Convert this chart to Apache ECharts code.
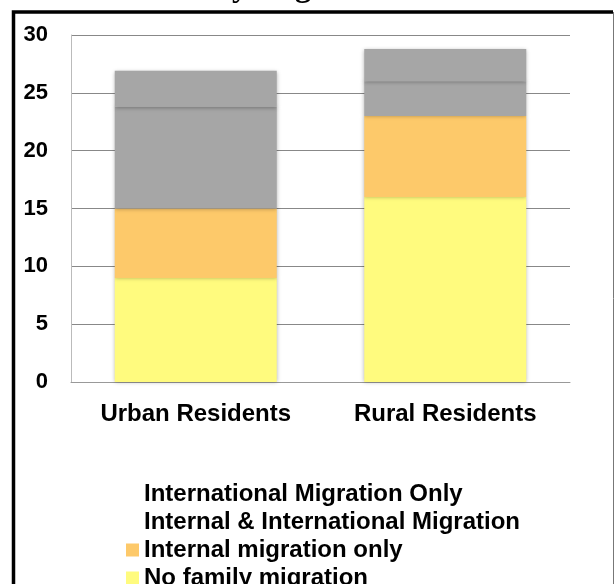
<!DOCTYPE html>
<html>
<head>
<meta charset="utf-8">
<script src="https://cdn.jsdelivr.net/npm/echarts@6/dist/echarts.min.js"></script>
<style>
html,body{margin:0;padding:0;background:#fff;}
#chart{width:615px;height:584px;}
</style>
</head>
<body>
<div id="chart"></div>
<script>
const categories = ['Urban Residents', 'Rural Residents'];
const noFamilyMigration = [9, 16];
const internalOnly = [6, 7];
const internalAndInternational = [8.8, 3];
const internationalOnly = [3.1, 2.8];
const yTicks = [0, 5, 10, 15, 20, 25, 30];
const titleText = 'Family Migration';

const chart = echarts.init(document.getElementById('chart'));
const shadow = {shadowBlur: 4, shadowColor: 'rgba(0,0,0,0.3)'};
const font = 'Liberation Sans';

chart.setOption({
  animation: false,
  backgroundColor: '#fff',
  graphic: [
    {type: 'text', left: 152, top: -28, z: 10,
     style: {text: titleText, font: 'bold 32px "Liberation Serif"', fill: '#000'}},
    {type: 'polyline', z: 10, silent: true,
     shape: {points: [[13.5, 600], [13.5, 12], [613, 12]]},
     style: {stroke: '#000', lineWidth: 3.5, fill: null}},
    {type: 'line', z: 10, silent: true,
     shape: {x1: 613.5, y1: 12, x2: 613.5, y2: 600},
     style: {stroke: '#777', lineWidth: 1}}
  ],
  grid: {left: 71, right: 45, top: 35, bottom: 202, containLabel: false},
  legend: {
    orient: 'vertical',
    left: 121,
    top: 475,
    height: 140,
    itemWidth: 13,
    itemHeight: 13,
    itemGap: 0,
    icon: 'rect',
    textStyle: {fontFamily: font, fontWeight: 'bold', fontSize: 24, color: '#000', lineHeight: 28},
    data: [
      {name: 'International Migration Only', itemStyle: {opacity: 0}},
      {name: 'Internal & International Migration', itemStyle: {opacity: 0}},
      {name: 'Internal migration only'},
      {name: 'No family migration'}
    ]
  },
  xAxis: {
    type: 'category',
    data: categories,
    axisLine: {lineStyle: {color: '#999', width: 1}},
    axisTick: {show: false},
    axisLabel: {fontFamily: font, fontWeight: 'bold', fontSize: 24, color: '#000', margin: 20}
  },
  yAxis: {
    type: 'value',
    min: yTicks[0],
    max: yTicks[yTicks.length - 1],
    interval: 5,
    axisLine: {show: true, lineStyle: {color: '#bbb', width: 1}},
    axisTick: {show: false},
    splitLine: {lineStyle: {color: '#888', width: 1}},
    axisLabel: {fontFamily: font, fontWeight: 'bold', fontSize: 22, color: '#000', margin: 23}
  },
  series: [
    {name: 'No family migration', type: 'bar', stack: 'a', barWidth: 162, data: noFamilyMigration,
     itemStyle: Object.assign({color: '#FFFB7E'}, shadow)},
    {name: 'Internal migration only', type: 'bar', stack: 'a', data: internalOnly,
     itemStyle: Object.assign({color: '#FDC96A'}, shadow)},
    {name: 'Internal & International Migration', type: 'bar', stack: 'a', data: internalAndInternational,
     itemStyle: Object.assign({color: '#A6A6A6'}, shadow)},
    {name: 'International Migration Only', type: 'bar', stack: 'a', data: internationalOnly,
     itemStyle: {color: '#A6A6A6', shadowBlur: 4, shadowOffsetY: 1, shadowColor: 'rgba(0,0,0,0.3)'}}
  ]
});
</script>
</body>
</html>
